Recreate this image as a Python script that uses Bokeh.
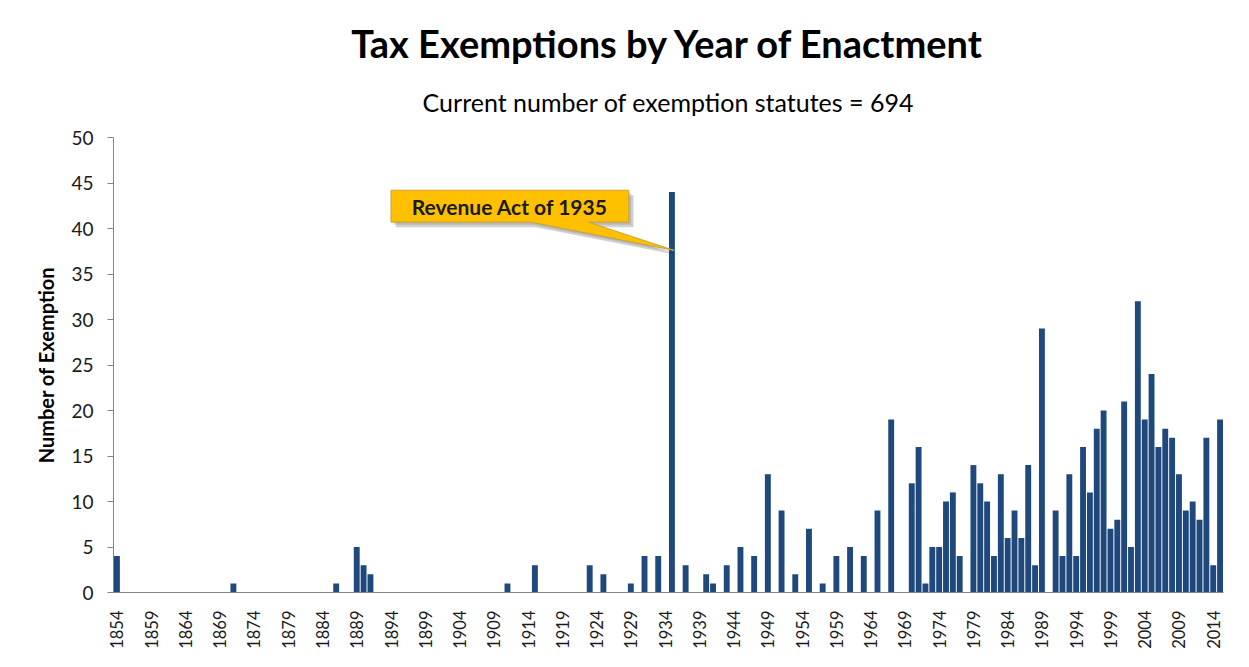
from bokeh.plotting import figure
from bokeh.models import Range1d, FixedTicker, Title, ColumnDataSource
from bokeh.core.properties import value
from bokeh.embed import file_html
from bokeh.resources import INLINE
import math

years = [1854, 1871, 1886, 1889, 1890, 1891,
         1911, 1915, 1923, 1925, 1929, 1931, 1933, 1935,
         1937, 1940, 1941, 1943, 1945, 1947, 1949, 1951, 1953, 1955, 1957,
         1959, 1961, 1963, 1965, 1967,
         1970, 1971, 1972, 1973, 1974, 1975, 1976, 1977,
         1979, 1980, 1981, 1982, 1983, 1984, 1985, 1986, 1987, 1988, 1989,
         1991, 1992, 1993, 1994, 1995, 1996, 1997, 1998, 1999, 2000,
         2001, 2002, 2003, 2004, 2005, 2006, 2007, 2008, 2009, 2010,
         2011, 2012, 2013, 2014, 2015]
counts = [4, 1, 1, 5, 3, 2,
          1, 3, 3, 2, 1, 4, 4, 44,
          3, 2, 1, 3, 5, 4, 13, 9, 2, 7, 1,
          4, 5, 4, 9, 19,
          12, 16, 1, 5, 5, 10, 11, 4,
          14, 12, 10, 4, 13, 6, 9, 6, 14, 3, 29,
          9, 4, 13, 4, 16, 11, 18, 20, 7, 8,
          21, 5, 32, 19, 24, 16, 18, 17, 13, 9,
          10, 8, 17, 3, 19]
tick_years = list(range(1854, 2015, 5))
y_ticks = list(range(0, 51, 5))

title_text = "Tax Exemptions by Year of Enactment"
subtitle_text = "Current number of exemption statutes = %d" % sum(counts)
callout_text = "Revenue Act of 1935"
callout_year = 1935

FONT = "Lato"

p = figure(width=1233, height=651, output_backend="svg", toolbar_location=None,
           x_range=Range1d(1853.5, 2015.5), y_range=Range1d(0, 50),
           min_border_left=113, min_border_right=10, min_border_top=0,
           min_border_bottom=59)
p.outline_line_color = None
p.xgrid.grid_line_color = None
p.ygrid.grid_line_color = None

src = ColumnDataSource(dict(x=years, top=counts))
p.vbar(x="x", top="top", width=0.86, bottom=0, source=src,
       fill_color="#1F497D", line_color=None)

# axes
p.yaxis.ticker = FixedTicker(ticks=y_ticks)
p.yaxis.axis_line_color = "#868686"
p.yaxis.major_tick_line_color = "#868686"
p.yaxis.major_tick_out = 6
p.yaxis.major_tick_in = 0
p.yaxis.minor_tick_line_color = None
p.yaxis.major_label_text_font = FONT
p.yaxis.major_label_text_font_size = "19px"
p.yaxis.major_label_text_color = "#1a1a1a"
p.yaxis.major_label_standoff = 14
p.yaxis.axis_label = "Number of Exemption"
p.yaxis.axis_label_text_font = FONT
p.yaxis.axis_label_text_font_style = "bold"
p.yaxis.axis_label_text_font_size = "20px"
p.yaxis.axis_label_text_color = "#000000"
p.yaxis.axis_label_standoff = 10

p.xaxis.ticker = FixedTicker(ticks=tick_years)
p.xaxis.axis_line_color = "#868686"
p.xaxis.major_tick_line_color = None
p.xaxis.minor_tick_line_color = None
p.xaxis.major_label_orientation = math.pi / 2
p.xaxis.major_label_text_font = FONT
p.xaxis.major_label_text_font_size = "16.5px"
p.xaxis.major_label_text_color = "#1a1a1a"
p.xaxis.major_label_standoff = 12

# titles: first added sits nearest the frame
p.add_layout(Title(text=subtitle_text, align="center", text_font=FONT,
                   text_font_size="25px", text_font_style="normal",
                   text_color="#000000", standoff=42), "above")
p.add_layout(Title(text=title_text, align="center", text_font=FONT,
                   text_font_size="38px", text_font_style="bold",
                   text_color="#000000", standoff=-4), "above")
p.add_layout(Title(text=" ", align="center", text_font=FONT,
                   text_font_size="10px", text_color="#ffffff",
                   standoff=5), "above")

# callout
bx0, bx1 = 1894.0, 1928.7
by0, by1 = 40.7, 44.2
px0, px1 = 1914.4, 1922.8
tipx, tipy = callout_year + 0.3, 37.6
cx = [bx0, bx1, bx1, px1, tipx, px0, bx0]
cy = [by1, by1, by0, by0, tipy, by0, by0]
p.patch([v + 0.7 for v in cx], [v - 0.55 for v in cy], fill_color="#000000",
        fill_alpha=0.18, line_color=None)
p.patch([v + 0.35 for v in cx], [v - 0.28 for v in cy], fill_color="#000000",
        fill_alpha=0.12, line_color=None)
p.patch(cx, cy, fill_color="#FFC000", line_color="#C9A13A", line_width=1)
p.text(x=[(bx0 + bx1) / 2], y=[(by0 + by1) / 2], text=[callout_text],
       text_font=value(FONT), text_font_style="bold", text_font_size="21px",
       text_color="#1a1a1a", text_align="center", text_baseline="middle")

open("out.html", "w").write(file_html(p, INLINE))
